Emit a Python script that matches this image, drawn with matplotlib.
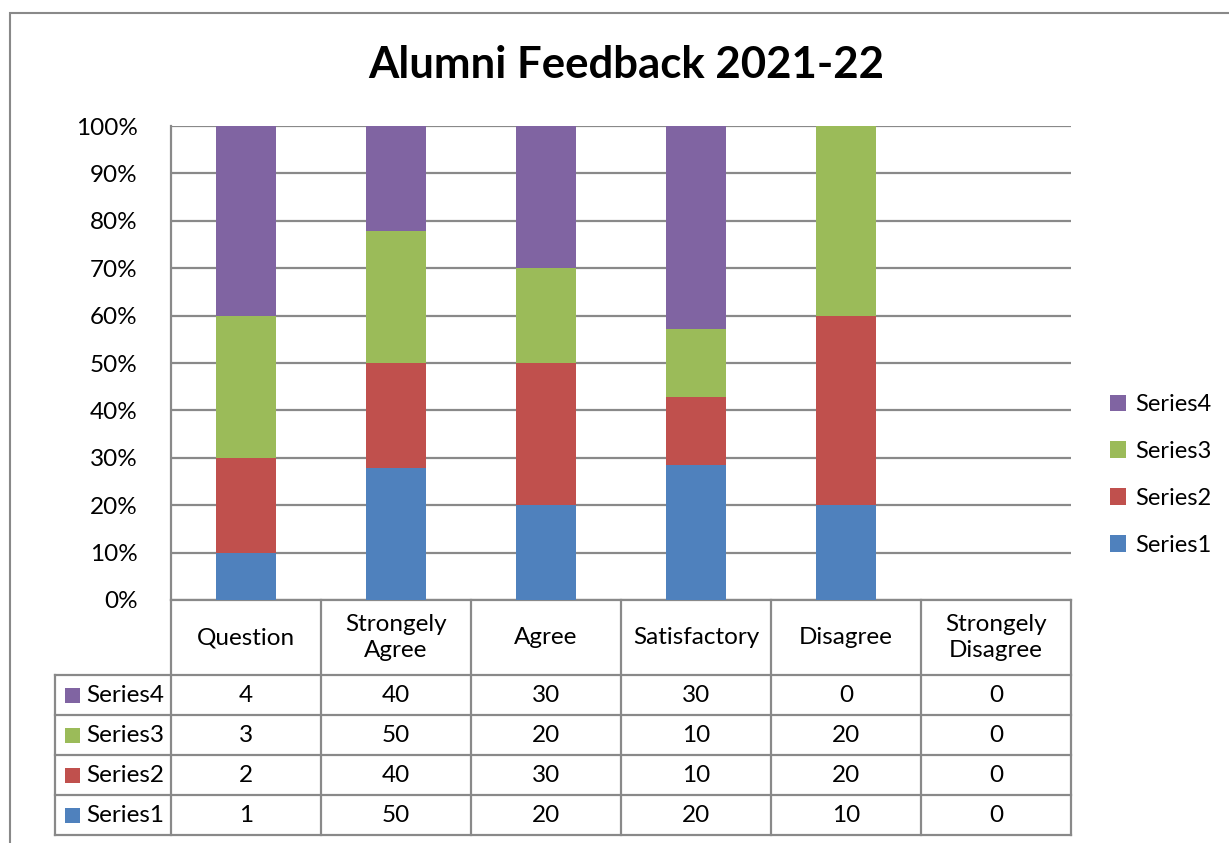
"""Alumni feedback 2021-22 : 100% stacked columns with data table"""
import numpy as np
import matplotlib
matplotlib.use("Agg")
import matplotlib.pyplot as plt
from matplotlib.patches import Rectangle

plt.rcParams['font.family'] = ['Lato', 'DejaVu Sans']

# data
categories = ["Question", "Strongely\nAgree", "Agree", "Satisfactory", "Disagree", "Strongely\nDisagree"]
series_names = ["Series1", "Series2", "Series3", "Series4"]
series1 = [1, 50, 20, 20, 10, 0]
series2 = [2, 40, 30, 10, 20, 0]
series3 = [3, 50, 20, 10, 20, 0]
series4 = [4, 40, 30, 30, 0, 0]
colors = ["#4F81BD", "#C0504D", "#9BBB59", "#8064A2"]
yticks = [0, 10, 20, 30, 40, 50, 60, 70, 80, 90, 100]

W, H = 1229, 843
grid_c = "#898989"
fs = 17.5
lw = 1.6

fig = plt.figure(figsize=(W/100, H/100), dpi=100)
ax = fig.add_axes([171/W, 1-600/H, 900/W, 474/H])

# outer chart border (left/top visible only)
fig.patches.append(Rectangle((10/W, -0.2), 1.2, 1.2-13/H, transform=fig.transFigure,
                             fill=False, edgecolor=grid_c, linewidth=1.5))

data = np.array([series1, series2, series3, series4], dtype=float)
tot = data.sum(axis=0)
pct = np.divide(data, tot, out=np.zeros_like(data), where=tot > 0)
x = np.arange(len(categories))
bottom = np.zeros(len(categories))
handles = []
for i in range(4):
    b = ax.bar(x, pct[i], 0.4, bottom=bottom, color=colors[i], label=series_names[i], zorder=3)
    handles.append(b)
    bottom += pct[i]

ax.set_xlim(-0.5, len(categories)-0.5)
ax.set_ylim(0, 1)
ax.set_yticks([t/100 for t in yticks])
ax.set_yticklabels(["%d%%" % t for t in yticks], fontsize=fs)
ax.tick_params(axis='y', length=0, pad=24)
ax.set_xticks([])
ax.grid(axis='y', color=grid_c, linewidth=lw, zorder=0)
for s in ['top', 'right', 'bottom']:
    ax.spines[s].set_visible(False)
ax.spines['left'].set_color(grid_c)
ax.spines['left'].set_linewidth(lw)

# data table drawn under the axis (x in data units, y in axes fraction)
rows = [series4, series3, series2, series1]
row_labels = ["Series4", "Series3", "Series2", "Series1"]
key_colors = [colors[3], colors[2], colors[1], colors[0]]
tr = ax.get_xaxis_transform()
px = 1/150.0          # one pixel in x data units
hdr = 75/474.0
rh = 40/474.0
n = len(categories)
x0, x1 = -0.5, n - 0.5
xl = x0 - 116*px
ybot = -hdr - len(rows)*rh
kw = dict(color=grid_c, lw=lw, transform=tr, clip_on=False, solid_capstyle='projecting')

ax.plot([x0, x1], [0, 0], **kw)
ax.plot([xl, x1], [-hdr, -hdr], **kw)
for r in range(len(rows)):
    yb = -hdr - (r+1)*rh
    ax.plot([xl, x1], [yb, yb], **kw)
for i in range(n+1):
    ax.plot([x0+i, x0+i], [0, ybot], **kw)
ax.plot([xl, xl], [-hdr, ybot], **kw)

for i, c in enumerate(categories):
    ax.text(i, -hdr/2, c, ha='center', va='center', fontsize=fs, transform=tr,
            linespacing=1.25)
for r, vals in enumerate(rows):
    yc = -hdr - (r+0.5)*rh
    for i, v in enumerate(vals):
        ax.text(i, yc, str(v), ha='center', va='center', fontsize=fs, transform=tr)
    ax.text(x0 - 85*px, yc, row_labels[r], ha='left', va='center', fontsize=fs, transform=tr)
    ax.add_patch(Rectangle((x0 - 106*px, yc - 7.5/474), 15*px, 15/474, transform=tr,
                           facecolor=key_colors[r], edgecolor='none', clip_on=False))

fig.legend(handles[::-1], series_names[::-1], loc='center left',
           bbox_to_anchor=(1093/W, 1-475/H), frameon=False, fontsize=17,
           handlelength=0.7, handleheight=0.7, handletextpad=0.4, labelspacing=1.1,
           borderpad=0.2)

fig.text(626/W, 1-65/H, "Alumni Feedback 2021-22", ha='center', va='center',
         fontsize=31.5, fontweight='bold')

plt.savefig('out.png', dpi=100)
